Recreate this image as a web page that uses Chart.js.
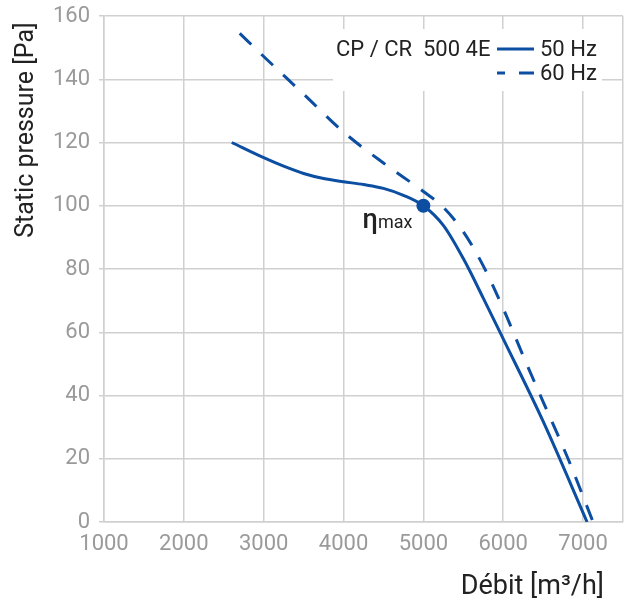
<!DOCTYPE html>
<html>
<head>
<meta charset="utf-8">
<script src="https://cdn.jsdelivr.net/npm/chart.js@4.4.1/dist/chart.umd.min.js"></script>
<style>
  html, body { margin: 0; padding: 0; background: #ffffff; }
  #wrap { width: 633px; height: 603px; position: relative; }
</style>
</head>
<body>
<div id="wrap"><canvas id="chart" width="633" height="603"></canvas></div>
<script>
// ---- data ----
const flow50 = [2600, 3000, 3250, 3500, 3750, 4000, 4250, 4500, 4750, 5000, 5250, 5500, 5750, 6000, 6500, 7050];
const pressure50 = [120, 115.2, 112.5, 110.2, 108.6, 107.6, 106.7, 105.5, 103.3, 100, 93.8, 83.3, 70.8, 57.9, 31.8, 0];
const flow60 = [2700, 3000, 3500, 4000, 4500, 5000, 5250, 5500, 5750, 6000, 6250, 6500, 6812, 7125];
const pressure60 = [154.5, 147.2, 135.3, 123.3, 113.5, 104.5, 99.5, 91.8, 81, 67.5, 52.5, 38, 20, 0];
const etaFlow = [5000];
const etaPressure = [100];
const xTickValues = [1000, 2000, 3000, 4000, 5000, 6000, 7000];
const yTickValues = [0, 20, 40, 60, 80, 100, 120, 140, 160];
const seriesLabels = ['50 Hz', '60 Hz'];
const legendTitle = 'CP / CR  500 4E';
const xTitle = 'Débit [m³/h]';
const yTitle = 'Static pressure [Pa]';
const etaSymbol = 'η';
const etaSub = 'max';

// ---- style ----
const BLUE = '#0b4ea2';
const GRID = '#d0d0d0';
const TICK = '#9a9a9a';
const TEXT = '#222222';
const FONT = 'Roboto';

const toPoints = (xs, ys) => xs.map((x, i) => ({ x: x, y: ys[i] }));

const overlayPlugin = {
  id: 'overlay',
  beforeDatasetsDraw(chart) {
    const ctx = chart.ctx;
    const ds = chart.data.datasets;
    ctx.save();
    // legend box
    ctx.fillStyle = '#ffffff';
    ctx.fillRect(333, 29, 269, 62);
    ctx.fillStyle = TEXT;
    ctx.textBaseline = 'middle';
    ctx.textAlign = 'left';
    ctx.font = '22px ' + FONT;
    ctx.fillText(legendTitle, 336, 50);
    const rows = [49, 73];
    [0, 1].forEach(i => {
      ctx.save();
      ctx.strokeStyle = ds[i].borderColor;
      ctx.lineWidth = ds[i].borderWidth;
      ctx.setLineDash(ds[i].borderDash || []);
      if (ds[i].borderDash) ctx.lineDashOffset = 8;
      ctx.beginPath();
      ctx.moveTo(497, rows[i]);
      ctx.lineTo(534, rows[i]);
      ctx.stroke();
      ctx.restore();
      ctx.fillText(seriesLabels[i], 540, rows[i] + 1);
    });
    ctx.restore();
  },
  afterDatasetsDraw(chart) {
    const ctx = chart.ctx;
    const xs = chart.scales.x, ys = chart.scales.y;
    const px = xs.getPixelForValue(etaFlow[0]);
    const py = ys.getPixelForValue(etaPressure[0]);
    ctx.save();
    ctx.fillStyle = TEXT;
    ctx.textBaseline = 'alphabetic';
    ctx.textAlign = 'right';
    ctx.font = '18px ' + FONT;
    const right = px - 11;
    const base = py + 22;
    ctx.fillText(etaSub, right, base);
    const w = ctx.measureText(etaSub).width;
    ctx.font = '500 27px ' + FONT;
    ctx.fillText(etaSymbol, right - w, base);
    // x axis title
    ctx.font = '27px ' + FONT;
    ctx.textAlign = 'right';
    ctx.fillText(xTitle, 604, 594);
    // y axis title
    ctx.save();
    ctx.translate(27, 130);
    ctx.rotate(-Math.PI / 2);
    ctx.textAlign = 'center';
    ctx.textBaseline = 'middle';
    ctx.font = '25px ' + FONT;
    ctx.fillText(yTitle, 0, 0);
    ctx.restore();
    ctx.restore();
  }
};

new Chart(document.getElementById('chart'), {
  type: 'scatter',
  data: {
    datasets: [
      {
        label: seriesLabels[0],
        data: toPoints(flow50, pressure50),
        showLine: true,
        borderColor: BLUE,
        backgroundColor: BLUE,
        borderWidth: 3,
        pointRadius: 0,
        cubicInterpolationMode: 'monotone'
      },
      {
        label: seriesLabels[1],
        data: toPoints(flow60, pressure60),
        showLine: true,
        borderColor: BLUE,
        backgroundColor: BLUE,
        borderWidth: 3,
        borderDash: [16, 14],
        pointRadius: 0,
        cubicInterpolationMode: 'monotone'
      },
      {
        label: 'ηmax',
        data: toPoints(etaFlow, etaPressure),
        showLine: false,
        pointRadius: 7,
        pointBackgroundColor: BLUE,
        pointBorderWidth: 0,
        backgroundColor: BLUE
      }
    ]
  },
  options: {
    responsive: false,
    animation: false,
    devicePixelRatio: 1,
    layout: { padding: { top: 16, right: 10, bottom: 0, left: 0 } },
    plugins: {
      legend: { display: false },
      tooltip: { enabled: false }
    },
    scales: {
      x: {
        type: 'linear',
        min: 1000,
        max: 7500,
        afterFit(scale) { scale.height = 81; },
        afterBuildTicks(scale) {
          scale.ticks = xTickValues.concat([7500]).map(v => ({ value: v }));
        },
        ticks: {
          color: TICK,
          font: { family: FONT, size: 22 },
          padding: 9,
          maxRotation: 0,
          autoSkip: false,
          callback: (v) => xTickValues.includes(v) ? String(v) : ''
        },
        grid: { color: GRID, lineWidth: 1.5, drawTicks: false },
        border: { color: GRID, width: 1.5 },
        title: { display: false }
      },
      y: {
        type: 'linear',
        min: 0,
        max: 160,
        afterFit(scale) { scale.width = 104; },
        afterBuildTicks(scale) {
          scale.ticks = yTickValues.map(v => ({ value: v }));
        },
        ticks: {
          color: TICK,
          font: { family: FONT, size: 22, lineHeight: 0.5 },
          padding: 9
        },
        grid: { color: GRID, lineWidth: 1.5, drawTicks: true, tickLength: 5 },
        border: { color: GRID, width: 1.5 },
        title: { display: false }
      }
    }
  },
  plugins: [overlayPlugin]
});
</script>
</body>
</html>
